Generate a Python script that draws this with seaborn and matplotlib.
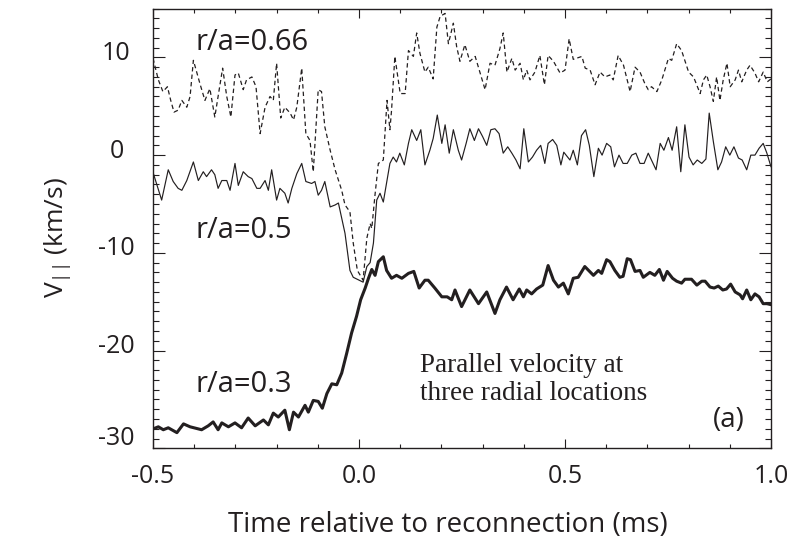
import matplotlib
matplotlib.use("Agg")
import matplotlib.pyplot as plt
import matplotlib.transforms as mtransforms
from matplotlib.ticker import MultipleLocator
import seaborn as sns
import pandas as pd

# ---- data: parallel velocity (km/s) vs time relative to reconnection (ms) ----
t_066 = [-0.500, -0.487, -0.476, -0.465, -0.457, -0.449, -0.439, -0.430, -0.418, -0.410,
         -0.402, -0.386, -0.374, -0.362, -0.350, -0.331, -0.321, -0.311, -0.301, -0.293,
         -0.281, -0.273, -0.260, -0.250, -0.240, -0.228, -0.216, -0.208, -0.200, -0.190,
         -0.180, -0.167, -0.159, -0.151, -0.139, -0.129, -0.119, -0.111, -0.103, -0.099,
         -0.091, -0.083, -0.070, -0.058, -0.042, -0.034, -0.022, -0.014, -0.004, 0.010,
         0.019, 0.027, 0.031, 0.039, 0.047, 0.059, 0.068, 0.075, 0.079, 0.087,
         0.100, 0.112, 0.120, 0.132, 0.140, 0.148, 0.160, 0.168, 0.180, 0.189,
         0.197, 0.209, 0.217, 0.229, 0.237, 0.245, 0.257, 0.269, 0.282, 0.294,
         0.306, 0.318, 0.330, 0.342, 0.350, 0.359, 0.371, 0.379, 0.391, 0.399,
         0.407, 0.415, 0.427, 0.439, 0.450, 0.459, 0.472, 0.488, 0.500, 0.510,
         0.520, 0.541, 0.549, 0.561, 0.573, 0.585, 0.597, 0.609, 0.617, 0.629,
         0.642, 0.658, 0.670, 0.682, 0.694, 0.702, 0.710, 0.723, 0.735, 0.751,
         0.759, 0.771, 0.783, 0.800, 0.812, 0.828, 0.836, 0.844, 0.852, 0.860,
         0.868, 0.876, 0.884, 0.893, 0.901, 0.913, 0.921, 0.929, 0.941, 0.949,
         0.961, 0.970, 0.981, 0.991, 1.000]
v_066 = [9.9, 7.7, 6.5, 7.0, 5.6, 4.4, 4.6, 5.6, 4.9, 6.0,
         9.7, 7.3, 5.6, 6.8, 3.9, 8.9, 6.0, 3.9, 8.2, 8.4,
         6.7, 7.7, 8.0, 7.0, 2.2, 4.9, 6.0, 5.6, 9.4, 3.8,
         4.9, 4.3, 3.6, 4.9, 8.9, 2.2, 1.5, -1.7, 3.9, 6.7,
         6.5, 2.9, 0.5, -1.5, -3.6, -5.1, -5.8, -9.0, -11.8, -12.8,
         -8.5, -7.0, -7.5, -4.0, -0.85, -0.5, 5.6, 2.6, 4.6, 10.1,
         6.3, 6.3, 10.7, 10.1, 12.5, 10.4, 8.5, 9.0, 7.8, 13.1,
         14.2, 14.5, 11.4, 13.5, 11.1, 9.6, 11.3, 9.6, 10.1, 8.4,
         6.7, 9.4, 9.2, 10.9, 12.5, 8.5, 9.9, 8.7, 9.4, 7.7,
         8.7, 7.7, 8.5, 10.2, 7.2, 10.2, 9.6, 8.4, 8.7, 11.9,
         9.8, 10.1, 8.9, 8.7, 7.2, 8.5, 8.0, 8.2, 7.7, 10.2,
         9.2, 6.5, 9.0, 8.5, 7.3, 6.7, 7.0, 6.5, 7.7, 9.9,
         9.7, 11.4, 10.7, 8.5, 8.0, 6.3, 7.7, 8.2, 7.0, 5.5,
         8.0, 5.6, 7.7, 9.4, 7.0, 7.7, 8.7, 7.5, 8.7, 9.2,
         8.4, 7.5, 8.5, 7.5, 7.8]

t_05 = [-0.499, -0.479, -0.463, -0.451, -0.439, -0.430, -0.418, -0.402, -0.390, -0.378,
        -0.370, -0.358, -0.350, -0.342, -0.333, -0.321, -0.313, -0.301, -0.293, -0.281,
        -0.269, -0.260, -0.248, -0.240, -0.228, -0.220, -0.212, -0.200, -0.192, -0.180,
        -0.172, -0.163, -0.151, -0.139, -0.129, -0.115, -0.107, -0.099, -0.091, -0.083,
        -0.070, -0.058, -0.050, -0.034, -0.022, -0.014, 0.010, 0.019, 0.027, 0.035,
        0.043, 0.051, 0.059, 0.075, 0.083, 0.091, 0.099, 0.110, 0.120, 0.128,
        0.140, 0.150, 0.160, 0.172, 0.180, 0.190, 0.201, 0.209, 0.219, 0.229,
        0.241, 0.249, 0.260, 0.269, 0.280, 0.290, 0.300, 0.310, 0.320, 0.330,
        0.340, 0.350, 0.361, 0.371, 0.381, 0.391, 0.400, 0.411, 0.421, 0.431,
        0.441, 0.451, 0.459, 0.470, 0.480, 0.490, 0.497, 0.512, 0.520, 0.530,
        0.540, 0.550, 0.559, 0.570, 0.581, 0.590, 0.601, 0.611, 0.620, 0.631,
        0.641, 0.651, 0.662, 0.672, 0.682, 0.692, 0.702, 0.712, 0.721, 0.731,
        0.740, 0.751, 0.760, 0.771, 0.781, 0.791, 0.801, 0.811, 0.821, 0.832,
        0.842, 0.850, 0.860, 0.871, 0.880, 0.890, 0.900, 0.910, 0.921, 0.930,
        0.941, 0.951, 0.961, 0.971, 0.981, 0.990, 1.000]
v_05 = [-1.9, -4.6, -1.5, -2.7, -3.4, -3.6, -2.6, -0.7, -2.6, -1.7,
        -2.2, -1.5, -2.0, -3.4, -2.6, -2.6, -3.6, -0.85, -3.1, -1.7,
        -2.2, -2.4, -3.4, -3.4, -2.6, -3.6, -1.5, -4.6, -3.4, -3.9,
        -4.9, -3.4, -1.9, -0.85, -2.7, -2.9, -2.7, -4.1, -3.6, -2.7,
        -5.3, -5.1, -4.9, -8.0, -11.8, -12.5, -13.0, -11.4, -11.0, -9.0,
        -4.6, -3.9, -4.8, -0.85, -0.2, -0.7, 0.2, -1.0, 1.2, 2.6,
        1.5, 2.6, -1.0, 0.5, 1.7, 4.1, 1.2, 3.1, 0.2, 2.6,
        0.5, -0.5, 1.2, 2.7, 1.5, 2.7, 1.9, 1.0, 2.6, 2.7,
        2.2, 0.2, 0.85, 0.2, -0.5, -1.4, 2.7, -0.7, -0.2, 0.5,
        1.0, -0.85, 1.2, 1.6, 1.0, -1.0, 0.3, -0.5, 0.5, -1.0,
        2.0, 2.6, 1.0, -2.2, 0.7, 0.0, 1.2, 0.85, -1.2, 0.0,
        -0.85, -0.85, 0.0, 0.2, -0.85, -0.85, 0.2, -0.7, -1.5, 1.2,
        0.5, 1.8, 0.5, 2.9, -1.7, 3.1, -0.2, -1.0, -0.5, -0.85,
        -0.4, 4.3, 1.4, -1.5, -0.7, 0.85, 0.0, 0.85, -0.3, -0.5,
        -1.5, 0.0, 0.0, 0.7, 1.2, 0.2, -1.2]

t_03 = [-0.499, -0.487, -0.475, -0.463, -0.442, -0.426, -0.410, -0.382, -0.366, -0.354,
        -0.342, -0.333, -0.317, -0.301, -0.285, -0.269, -0.252, -0.232, -0.220, -0.208,
        -0.196, -0.180, -0.169, -0.159, -0.147, -0.131, -0.123, -0.111, -0.099, -0.089,
        -0.078, -0.066, -0.054, -0.042, -0.030, -0.018, -0.006, 0.004, 0.015, 0.023,
        0.031, 0.039, 0.047, 0.059, 0.067, 0.079, 0.091, 0.104, 0.120, 0.133,
        0.146, 0.160, 0.168, 0.184, 0.201, 0.214, 0.225, 0.233, 0.249, 0.269,
        0.290, 0.310, 0.330, 0.342, 0.358, 0.374, 0.389, 0.399, 0.407, 0.419,
        0.431, 0.446, 0.459, 0.472, 0.484, 0.496, 0.508, 0.520, 0.532, 0.548,
        0.569, 0.581, 0.589, 0.601, 0.609, 0.621, 0.633, 0.641, 0.651, 0.659,
        0.670, 0.682, 0.690, 0.706, 0.718, 0.729, 0.739, 0.748, 0.761, 0.771,
        0.783, 0.791, 0.807, 0.820, 0.832, 0.840, 0.852, 0.862, 0.872, 0.883,
        0.892, 0.902, 0.913, 0.925, 0.931, 0.941, 0.951, 0.961, 0.971, 0.981,
        0.990, 1.000]
v_03 = [-28.0, -27.8, -28.1, -27.9, -28.4, -27.5, -27.8, -28.1, -27.7, -27.3,
        -28.1, -27.4, -27.8, -27.4, -27.9, -26.9, -27.7, -27.1, -27.6, -26.4,
        -26.8, -26.1, -28.1, -26.3, -26.8, -25.6, -26.3, -25.1, -25.2, -25.9,
        -24.4, -23.4, -23.5, -22.3, -20.3, -18.2, -16.5, -14.8, -13.6, -12.6,
        -11.7, -12.3, -10.9, -10.4, -11.8, -12.6, -12.3, -12.6, -12.1, -11.9,
        -13.6, -12.8, -12.8, -13.6, -14.5, -14.5, -14.8, -13.8, -15.5, -13.8,
        -15.2, -14.0, -16.2, -14.8, -13.5, -14.8, -13.7, -14.5, -13.8, -14.2,
        -13.7, -13.3, -11.3, -12.8, -13.5, -13.1, -14.2, -12.6, -12.5, -11.4,
        -12.3, -11.8, -12.1, -10.7, -10.9, -11.8, -12.5, -12.4, -10.6, -10.7,
        -11.9, -11.8, -12.5, -12.0, -12.3, -11.7, -12.8, -11.9, -12.6, -12.9,
        -13.1, -12.7, -12.7, -13.3, -12.9, -12.9, -13.5, -13.6, -13.4, -13.8,
        -13.7, -13.2, -14.0, -14.3, -14.7, -13.8, -14.8, -14.2, -14.5, -15.2,
        -15.2, -15.3]

xticks = [-0.5, 0.0, 0.5, 1.0]
xtick_labels = ["-0.5", "0.0", "0.5", "1.0"]
yticks = [-30, -20, -10, 0, 10]
ytick_labels = ["-30", "-20", "-10", "0", "10"]

INK = "#231f20"
SANS = ["Open Sans", "DejaVu Sans"]
SERIF = ["Liberation Serif", "DejaVu Serif"]

sns.set_style("ticks")
plt.rcParams["font.family"] = SANS
plt.rcParams["mathtext.fontset"] = "custom"
plt.rcParams["mathtext.rm"] = "Open Sans"
plt.rcParams["text.color"] = INK
plt.rcParams["axes.labelcolor"] = INK

fig = plt.figure(figsize=(8.07, 5.40), dpi=100)
ax = fig.add_axes([0.1896, 0.1698, 0.7658, 0.8144])

df066 = pd.DataFrame({"t": t_066, "v": v_066})
df05 = pd.DataFrame({"t": t_05, "v": v_05})
df03 = pd.DataFrame({"t": t_03, "v": v_03})

sns.lineplot(data=df066, x="t", y="v", ax=ax, color=INK, linewidth=0.9,
             linestyle=(0, (3.5, 2.5)), estimator=None, sort=False)
sns.lineplot(data=df05, x="t", y="v", ax=ax, color=INK, linewidth=0.85,
             estimator=None, sort=False)
sns.lineplot(data=df03, x="t", y="v", ax=ax, color=INK, linewidth=2.2,
             estimator=None, sort=False)

ax.set_xlim(-0.5, 1.0)
ax.set_ylim(-30, 15)

for side in ["left", "right", "top", "bottom"]:
    ax.spines[side].set_visible(True)
    ax.spines[side].set_linewidth(1.0)
    ax.spines[side].set_color(INK)

ax.set_xticks(xticks, xtick_labels)
ax.set_yticks(yticks, ytick_labels)
ax.xaxis.set_minor_locator(MultipleLocator(0.1))
ax.yaxis.set_minor_locator(MultipleLocator(1))
ax.tick_params(which="both", direction="in", top=True, right=True, color=INK,
               width=0.8, labelcolor=INK, labelsize=18)
ax.tick_params(axis="x", which="major", length=6.2, pad=11)
ax.tick_params(axis="x", which="minor", length=3.1)
ax.tick_params(axis="y", which="major", length=8.9, pad=26.3)
ax.tick_params(axis="y", which="minor", length=4.2)

# y tick labels sit centred and a little above their ticks
for lab, tv in zip(ax.get_yticklabels(), yticks):
    lab.set_horizontalalignment("center")
    lift = 13 if tv == -30 else 7
    lab.set_transform(lab.get_transform() +
                      mtransforms.ScaledTranslation(0, lift / 100, fig.dpi_scale_trans))

ax.set_xlabel("Time relative to reconnection (ms)", fontsize=20, va="baseline")
ax.xaxis.set_label_coords(0.477, -0.190)
ax.set_ylabel(r"$\mathregular{V_{||}}$ (km/s)", fontsize=19, va="center")
ax.yaxis.set_label_coords(-0.154, 0.480)

ax.text(-0.398, 10.8, "r/a=0.66", fontsize=21, ha="left", va="baseline", color=INK)
ax.text(-0.398, -8.5, "r/a=0.5", fontsize=21, ha="left", va="baseline", color=INK)
ax.text(-0.398, -24.2, "r/a=0.3", fontsize=21, ha="left", va="baseline", color=INK)
ax.text(0.937, -27.8, "(a)", fontsize=20, ha="right", va="baseline", color=INK)
# baseline given for the lower of the two lines
ax.text(0.148, -25.1, "Parallel velocity at\nthree radial locations", fontsize=19.5,
        family=SERIF, ha="left", va="baseline", color=INK, linespacing=1.2)

fig.savefig("out.png", dpi=100)
